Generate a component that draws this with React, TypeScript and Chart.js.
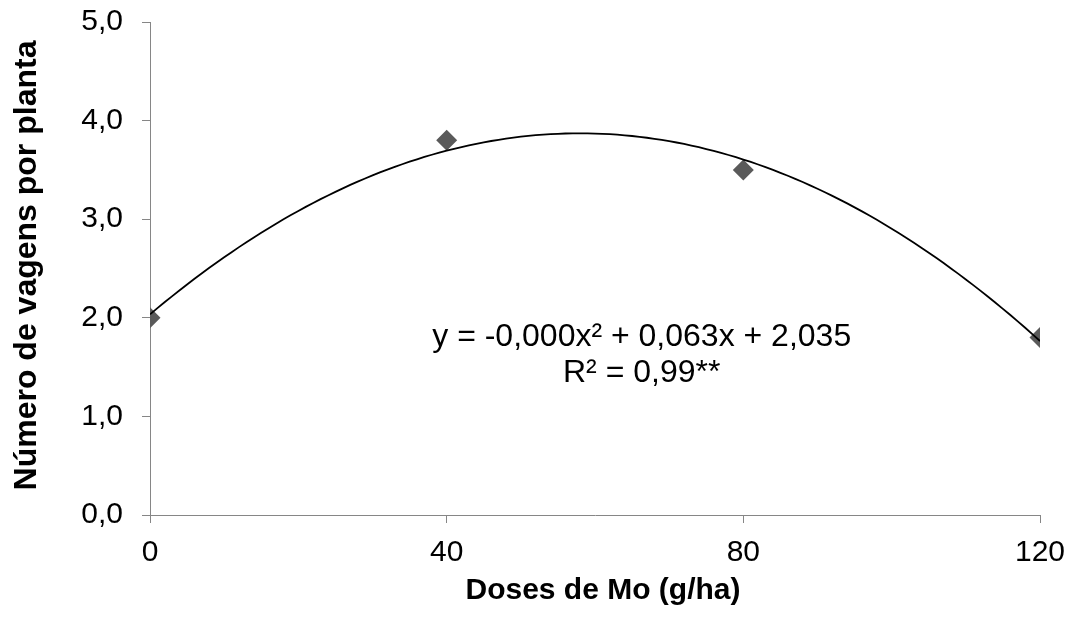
import { useEffect, useRef } from 'react';
import { Chart, registerables } from 'chart.js';

Chart.register(...registerables);

const doses = [0, 40, 80, 120];
const vagens = [2.0, 3.8, 3.5, 1.8];
const xTickValues = [0, 40, 80, 120];
const yTickValues = [0, 1, 2, 3, 4, 5];
const yTickLabels = ['0,0', '1,0', '2,0', '3,0', '4,0', '5,0'];
const xTitle = 'Doses de Mo (g/ha)';
const yTitle = 'Número de vagens por planta';
const equationLines = ['y = -0,000x² + 0,063x + 2,035', 'R² = 0,99**'];

const FONT = "'Liberation Sans', Arial, sans-serif";
const AXIS_COLOR = '#868686';

// Least-squares quadratic trendline fitted to the data (as in a spreadsheet trendline)
function quadFit(xs: number[], ys: number[]) {
  let s0 = 0, s1 = 0, s2 = 0, s3 = 0, s4 = 0, t0 = 0, t1 = 0, t2 = 0;
  xs.forEach((x, i) => {
    const y = ys[i];
    s0 += 1; s1 += x; s2 += x * x; s3 += x ** 3; s4 += x ** 4;
    t0 += y; t1 += x * y; t2 += x * x * y;
  });
  const M = [
    [s4, s3, s2, t2],
    [s3, s2, s1, t1],
    [s2, s1, s0, t0],
  ];
  for (let c = 0; c < 3; c++) {
    let p = c;
    for (let r = c + 1; r < 3; r++) if (Math.abs(M[r][c]) > Math.abs(M[p][c])) p = r;
    [M[c], M[p]] = [M[p], M[c]];
    for (let r = 0; r < 3; r++) {
      if (r === c) continue;
      const f = M[r][c] / M[c][c];
      for (let k = c; k < 4; k++) M[r][k] -= f * M[c][k];
    }
  }
  return { a: M[0][3] / M[0][0], b: M[1][3] / M[1][1], c: M[2][3] / M[2][2] };
}

const textPlugin = {
  id: 'chartTexts',
  afterDraw(chart: any) {
    const { ctx, chartArea, scales } = chart;
    ctx.save();
    ctx.fillStyle = '#000';
    ctx.textAlign = 'center';
    ctx.textBaseline = 'middle';
    // equation annotation
    ctx.font = `32px ${FONT}`;
    const cx = scales.x.getPixelForValue(66.3);
    const cy = scales.y.getPixelForValue(1.8);
    equationLines.forEach((line, i) => ctx.fillText(line, cx, cy + i * 35.5));
    // axis titles
    ctx.font = `bold 30px ${FONT}`;
    ctx.fillText(xTitle, (chartArea.left + chartArea.right) / 2 + 8, 591);
    ctx.font = `bold 32px ${FONT}`;
    ctx.translate(27, (chartArea.top + chartArea.bottom) / 2 - 3);
    ctx.rotate(-Math.PI / 2);
    ctx.fillText(yTitle, 0, 0);
    ctx.restore();
  },
};

export default function App() {
  const ref = useRef<HTMLCanvasElement>(null);

  useEffect(() => {
    if (!ref.current) return;
    const fit = quadFit(doses, vagens);
    const xMin = Math.min(...doses);
    const xMax = Math.max(...doses);
    const trend: { x: number; y: number }[] = [];
    for (let x = xMin; x <= xMax; x += 1) trend.push({ x, y: fit.a * x * x + fit.b * x + fit.c });

    const chart = new Chart(ref.current, {
      type: 'scatter',
      data: {
        datasets: [
          {
            label: 'Tendência',
            data: trend,
            showLine: true,
            borderColor: '#000',
            borderWidth: 1.8,
            pointRadius: 0,
            fill: false,
            order: 0,
          },
          {
            label: 'Número de vagens',
            data: doses.map((x, i) => ({ x, y: vagens[i] })),
            showLine: false,
            pointStyle: 'rectRot',
            pointRadius: 10.5,
            pointBackgroundColor: '#5a5a5a',
            pointBorderColor: '#5a5a5a',
            pointBorderWidth: 0,
            order: 1,
          },
        ],
      },
      options: {
        animation: false,
        responsive: true,
        maintainAspectRatio: false,
        layout: { padding: { top: 22, right: 35, left: 0, bottom: 0 } },
        plugins: { legend: { display: false }, tooltip: { enabled: false } },
        scales: {
          x: {
            type: 'linear',
            min: 0,
            max: 120,
            afterBuildTicks: (s: any) => {
              s.ticks = xTickValues.map((v) => ({ value: v }));
            },
            afterFit: (s: any) => {
              s.height = 104;
              s.paddingLeft = 0;
              s.paddingRight = 0;
            },
            grid: {
              display: true,
              drawOnChartArea: false,
              drawTicks: true,
              tickLength: 8,
              color: AXIS_COLOR,
              lineWidth: 1,
            },
            border: { display: true, color: AXIS_COLOR, width: 1 },
            ticks: {
              color: '#000',
              font: { family: FONT, size: 30 },
              padding: 12,
              maxRotation: 0,
              autoSkip: false,
            },
            title: { display: false },
          },
          y: {
            type: 'linear',
            min: 0,
            max: 5,
            afterBuildTicks: (s: any) => {
              s.ticks = yTickValues.map((v) => ({ value: v }));
            },
            afterFit: (s: any) => {
              s.width = 150;
              s.paddingTop = 0;
              s.paddingBottom = 0;
            },
            grid: {
              display: true,
              drawOnChartArea: false,
              drawTicks: true,
              tickLength: 8,
              color: AXIS_COLOR,
              lineWidth: 1,
            },
            border: { display: true, color: AXIS_COLOR, width: 1 },
            ticks: {
              color: '#000',
              font: { family: FONT, size: 30 },
              padding: 19,
              autoSkip: false,
              callback: (_v: any, i: number) => yTickLabels[i],
            },
            title: { display: false },
          },
        },
      },
      plugins: [textPlugin],
    });
    return () => chart.destroy();
  }, []);

  return (
    <div style={{ position: 'fixed', left: 0, top: 0, width: 1075, height: 619, background: '#fff' }}>
      <canvas ref={ref} />
    </div>
  );
}
